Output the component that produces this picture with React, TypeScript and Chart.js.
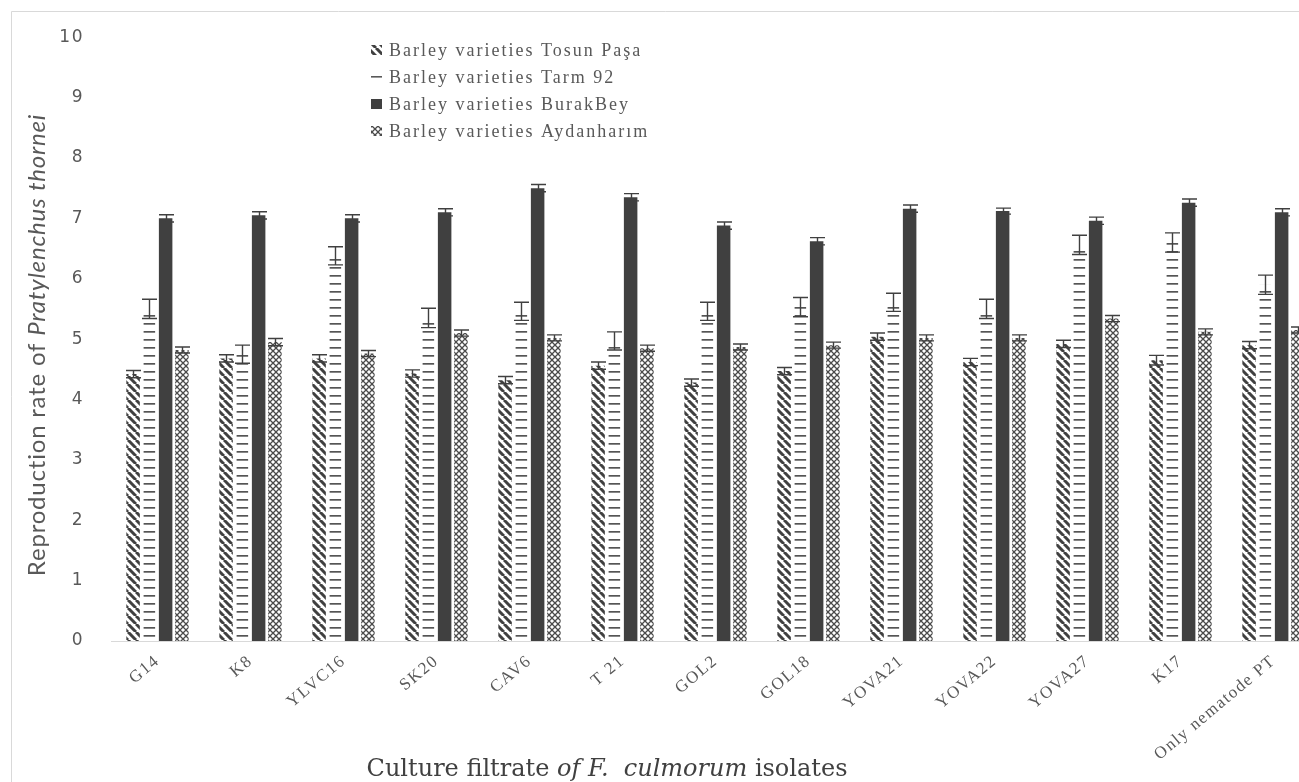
import React, { useEffect, useRef } from 'react';
import { Chart, registerables } from 'chart.js';

Chart.register(...registerables);

const categories = ['G14', 'K8', 'YLVC16', 'SK20', 'CAV6', 'T 21', 'GOL2', 'GOL18', 'YOVA21', 'YOVA22', 'YOVA27', 'K17', 'Only nematode PT'];
const seriesNames = ['Barley varieties Tosun Paşa', 'Barley varieties Tarm 92', 'Barley varieties BurakBey', 'Barley varieties Aydanharım'];

const tosunValues = [4.42, 4.68, 4.68, 4.43, 4.32, 4.56, 4.28, 4.47, 5.04, 4.62, 4.92, 4.65, 4.9];
const tosunErrors = [0.06, 0.06, 0.06, 0.06, 0.06, 0.06, 0.06, 0.06, 0.06, 0.06, 0.06, 0.08, 0.06];
const tarmValues = [5.5, 4.75, 6.38, 5.35, 5.46, 4.97, 5.46, 5.53, 5.61, 5.5, 6.56, 6.6, 5.9];
const tarmErrors = [0.16, 0.15, 0.15, 0.16, 0.15, 0.15, 0.15, 0.16, 0.15, 0.16, 0.16, 0.16, 0.16];
const burakValues = [7.0, 7.05, 7.0, 7.1, 7.5, 7.35, 6.88, 6.62, 7.16, 7.12, 6.96, 7.26, 7.1];
const burakErrors = [0.06, 0.06, 0.06, 0.06, 0.06, 0.06, 0.06, 0.06, 0.06, 0.05, 0.06, 0.06, 0.06];
const aydanValues = [4.82, 4.95, 4.76, 5.1, 5.02, 4.85, 4.87, 4.9, 5.02, 5.02, 5.34, 5.12, 5.15];
const aydanErrors = [0.05, 0.06, 0.05, 0.05, 0.05, 0.05, 0.05, 0.05, 0.05, 0.05, 0.05, 0.05, 0.05];

const yTickMin = 0;
const yTickMax = 10;
const yTickStep = 1;

const DARK = '#404040';
const TEXT = '#595959';

function makePattern(kind: string): CanvasPattern | string {
  const c = document.createElement('canvas');
  const size = kind === 'cross' ? 6 : 8;
  c.width = size;
  c.height = size;
  const g = c.getContext('2d')!;
  g.fillStyle = '#ffffff';
  g.fillRect(0, 0, size, size);
  g.strokeStyle = DARK;
  g.fillStyle = DARK;
  if (kind === 'diag') {
    g.lineWidth = 3;
    g.beginPath();
    for (let k = -1; k <= 1; k++) {
      g.moveTo(k * size, 0);
      g.lineTo(k * size + size, size);
    }
    g.stroke();
  } else if (kind === 'horiz') {
    g.fillStyle = '#555555';
    g.fillRect(0, 3, size, 1.7);
  } else if (kind === 'cross') {
    g.lineWidth = 1.3;
    g.strokeStyle = '#4a4a4a';
    g.beginPath();
    g.moveTo(0, 0); g.lineTo(size, size);
    g.moveTo(size, 0); g.lineTo(0, size);
    g.stroke();
  }
  const p = g.createPattern(c, 'repeat');
  return p || DARK;
}

export default function App() {
  const ref = useRef<HTMLCanvasElement>(null);

  useEffect(() => {
    const canvas = ref.current!;
    const fills = [makePattern('diag'), makePattern('horiz'), DARK, makePattern('cross')];
    const errors = [tosunErrors, tarmErrors, burakErrors, aydanErrors];

    const frame = {
      id: 'frame',
      beforeDraw(chart: any) {
        const ctx = chart.ctx;
        ctx.save();
        ctx.fillStyle = '#ffffff';
        ctx.fillRect(0, 0, chart.width, chart.height);
        ctx.strokeStyle = '#d9d9d9';
        ctx.lineWidth = 1;
        ctx.beginPath();
        ctx.moveTo(11.5, chart.height);
        ctx.lineTo(11.5, 11.5);
        ctx.lineTo(chart.width, 11.5);
        ctx.stroke();
        ctx.restore();
        (ctx as any).letterSpacing = '1.5px';
      },
    };

    const errorBars = {
      id: 'errorBars',
      afterDatasetsDraw(chart: any) {
        const ctx = chart.ctx;
        const yScale = chart.scales.y;
        ctx.save();
        ctx.strokeStyle = DARK;
        ctx.lineWidth = 1.4;
        chart.data.datasets.forEach((ds: any, i: number) => {
          const meta = chart.getDatasetMeta(i);
          meta.data.forEach((el: any, j: number) => {
            const v = ds.data[j];
            const e = errors[i][j];
            const x = Math.round(el.x) + 0.5;
            const yt = yScale.getPixelForValue(v + e);
            const yb = yScale.getPixelForValue(v - e);
            const hw = 7.5;
            ctx.beginPath();
            ctx.moveTo(x, yt);
            ctx.lineTo(x, yb);
            ctx.moveTo(x - hw, yt);
            ctx.lineTo(x + hw, yt);
            ctx.moveTo(x - hw, yb);
            ctx.lineTo(x + hw, yb);
            ctx.stroke();
          });
        });
        ctx.restore();
      },
    };

    const legendAndTitles = {
      id: 'legendAndTitles',
      afterDraw(chart: any) {
        const ctx = chart.ctx;
        ctx.save();
        // legend
        const lx = 371;
        const rows = [50, 77, 104, 131];
        chart.data.datasets.forEach((ds: any, i: number) => {
          const y = rows[i];
          ctx.fillStyle = ds.backgroundColor;
          if (i === 1) {
            ctx.fillStyle = TEXT;
            ctx.fillRect(lx, y - 1, 11, 1.6);
          } else {
            ctx.fillRect(lx, y - 5, 11, 10);
          }
          (ctx as any).letterSpacing = '2px';
          ctx.fillStyle = TEXT;
          ctx.font = '18px "Liberation Serif", serif';
          ctx.textBaseline = 'middle';
          ctx.textAlign = 'left';
          ctx.fillText(ds.label, lx + 18, y + 1);
        });

        // x title
        (ctx as any).letterSpacing = '0px';
        const xParts: [string, boolean][] = [['Culture filtrate ', false], ['of F.  culmorum', true], [' isolates', false]];
        const xf = (it: boolean) => `${it ? 'italic ' : ''}24px "DejaVu Serif", serif`;
        let total = 0;
        xParts.forEach(([t, it]) => { ctx.font = xf(it); total += ctx.measureText(t).width; });
        let cx = 607 - total / 2;
        ctx.fillStyle = '#404040';
        ctx.textBaseline = 'alphabetic';
        xParts.forEach(([t, it]) => {
          ctx.font = xf(it);
          ctx.fillText(t, cx, 776);
          cx += ctx.measureText(t).width;
        });

        // y title
        (ctx as any).letterSpacing = '0.8px';
        const yParts: [string, boolean][] = [['Reproduction rate of ', false], ['Pratylenchus thornei', true]];
        const yf = (it: boolean) => `${it ? 'italic ' : ''}24px Lato, sans-serif`;
        ctx.translate(37, 345);
        ctx.rotate(-Math.PI / 2);
        let tw = 0;
        yParts.forEach(([t, it]) => { ctx.font = yf(it); tw += ctx.measureText(t).width; });
        let px = -tw / 2;
        ctx.fillStyle = TEXT;
        ctx.textBaseline = 'middle';
        yParts.forEach(([t, it]) => {
          ctx.font = yf(it);
          ctx.fillText(t, px, 0);
          px += ctx.measureText(t).width;
        });
        ctx.restore();
      },
    };

    const values = [tosunValues, tarmValues, burakValues, aydanValues];
    const chart = new Chart(canvas, {
      type: 'bar',
      data: {
        labels: categories,
        datasets: seriesNames.map((name, i) => ({
          label: name,
          data: values[i],
          backgroundColor: fills[i] as any,
          borderColor: '#ffffff',
          borderWidth: i === 1 ? { left: 1, right: 1, top: 0, bottom: 0 } : 0,
          borderSkipped: false,
          categoryPercentage: 0.7,
          barPercentage: 0.83,
        })),
      },
      options: {
        responsive: false,
        animation: false,
        devicePixelRatio: 1,
        layout: { padding: { top: 24, left: 0, right: 0, bottom: 0 } },
        plugins: { legend: { display: false }, tooltip: { enabled: false } },
        scales: {
          x: {
            grid: { display: false, drawTicks: false },
            border: { display: true, color: '#d9d9d9', width: 1 },
            ticks: {
              color: TEXT,
              font: { family: '"Liberation Serif", serif', size: 17 },
              minRotation: 40,
              maxRotation: 40,
              autoSkip: false,
              padding: 10,
            },
            afterFit: (s: any) => { s.height = 141; },
          },
          y: {
            min: yTickMin,
            max: yTickMax,
            grid: { display: false, drawTicks: false },
            border: { display: false },
            ticks: {
              stepSize: yTickStep,
              color: TEXT,
              font: { family: '"DejaVu Sans", sans-serif', size: 17 },
              padding: 27,
            },
            afterFit: (s: any) => { s.width = 111; },
          },
        },
      },
      plugins: [frame, errorBars, legendAndTitles],
    });
    return () => chart.destroy();
  }, []);

  return (
    <div style={{ position: 'fixed', left: 0, top: 0, width: 1299, height: 782, overflow: 'hidden', background: '#ffffff' }}>
      <canvas ref={ref} width={1320} height={782} style={{ width: 1320, height: 782, display: 'block' }} />
    </div>
  );
}
